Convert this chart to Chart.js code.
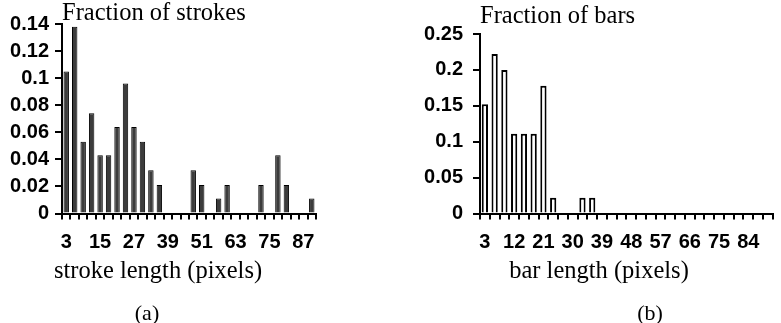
<!DOCTYPE html>
<html>
<head>
<meta charset="utf-8">
<script src="https://cdn.jsdelivr.net/npm/chart.js@4.4.1/dist/chart.umd.min.js"></script>
<style>
  html, body { margin: 0; padding: 0; background: #fff; }
  #wrap { position: relative; width: 781px; height: 323px; overflow: hidden; }
  canvas { position: absolute; top: 0; }
  #chartA { left: 0; }
  #chartB { left: 419px; }
  .caption {
    position: absolute; top: 300px; line-height: 22px;
    font: 22px 'Liberation Serif', 'Times New Roman', serif;
    transform: translateX(-50%);
  }
</style>
</head>
<body>
<div id="wrap">
  <canvas id="chartA" width="333" height="323"></canvas>
  <canvas id="chartB" width="362" height="323"></canvas>
  <div class="caption" style="left:147px">(a)</div>
  <div class="caption" style="left:650px">(b)</div>
</div>
<script>
// (a) stroke length histogram
const strokeLengths = [3, 6, 9, 12, 15, 18, 21, 24, 27, 30, 33, 36, 39, 42, 45,
                       48, 51, 54, 57, 60, 63, 66, 69, 72, 75, 78, 81, 84, 87, 90];
const strokeFractions = [0.105, 0.138, 0.053, 0.074, 0.043, 0.043, 0.064, 0.096, 0.064, 0.053,
                         0.032, 0.021, 0, 0, 0, 0.032, 0.021, 0, 0.011, 0.021,
                         0, 0, 0, 0.021, 0, 0.043, 0.021, 0, 0, 0.011];

// (b) bar length histogram
const barLengths = [3, 6, 9, 12, 15, 18, 21, 24, 27, 30, 33, 36, 39, 42, 45,
                    48, 51, 54, 57, 60, 63, 66, 69, 72, 75, 78, 81, 84, 87, 90];
const barFractions = [0.152, 0.222, 0.2, 0.111, 0.111, 0.111, 0.178, 0.022, 0, 0,
                      0.022, 0.022, 0, 0, 0, 0, 0, 0, 0, 0,
                      0, 0, 0, 0, 0, 0, 0, 0, 0, 0];

const tickFont = { family: "'Liberation Sans', Arial, sans-serif", size: 20, weight: 'bold', lineHeight: 1 };
const serifFont = "'Liberation Serif', 'Times New Roman', serif";

function makeChart(canvas, cfg) {
    return new Chart(canvas, {
        type: 'bar',
        data: {
            labels: cfg.labels,
            datasets: [{
                data: cfg.values,
                backgroundColor: cfg.fill,
                borderColor: '#000',
                borderWidth: cfg.borderWidth,
                barPercentage: 0.64,
                categoryPercentage: 1
            }]
        },
        options: {
            responsive: false,
            animation: false,
            devicePixelRatio: 1,
            layout: { padding: { left: 0, right: cfg.padRight, top: 0, bottom: 39 } },
            scales: {
                x: {
                    grid: { drawOnChartArea: false, drawTicks: true, tickLength: 6, color: '#000', lineWidth: 2 },
                    border: { display: true, color: '#000', width: 2 },
                    ticks: {
                        color: '#000',
                        font: tickFont,
                        padding: 13,
                        autoSkip: false,
                        maxRotation: 0,
                        callback: function(value, index) {
                            return index % cfg.labelEvery === 0 ? this.getLabelForValue(value) : '';
                        }
                    },
                    afterFit: s => { s.height = 46; }
                },
                y: {
                    min: 0,
                    max: cfg.yMax,
                    grid: { drawOnChartArea: false, drawTicks: true, tickLength: 7, color: '#000', lineWidth: 2 },
                    border: { display: true, color: '#000', width: 2 },
                    ticks: {
                        stepSize: cfg.yStep,
                        color: '#000',
                        font: tickFont,
                        padding: cfg.yPad,
                        callback: v => String(+v.toFixed(2))
                    },
                    afterFit: s => { s.width = cfg.yWidth; }
                }
            },
            plugins: {
                legend: { display: false },
                tooltip: { enabled: false },
                title: {
                    display: true,
                    text: cfg.title,
                    align: 'start',
                    fullSize: false,
                    color: '#000',
                    font: { family: serifFont, size: 24.5, weight: 'normal', lineHeight: cfg.titleLH },
                    padding: cfg.titlePad
                },
                subtitle: {
                    display: true,
                    position: 'bottom',
                    text: cfg.xTitle,
                    color: '#000',
                    font: { family: serifFont, size: 24.5, weight: 'normal', lineHeight: 1 },
                    padding: 0
                }
            }
        }
    });
}

makeChart(document.getElementById('chartA'), {
    labels: strokeLengths,
    values: strokeFractions,
    fill: '#3c3c3c',
    borderWidth: 1,
    labelEvery: 4,
    yMax: 0.14,
    yStep: 0.02,
    yWidth: 62,
    yPad: 6,
    padRight: 17,
    title: 'Fraction of strokes',
    titleLH: 0.86,
    titlePad: { top: 3, bottom: 0 },
    xTitle: 'stroke length (pixels)'
});

makeChart(document.getElementById('chartB'), {
    labels: barLengths,
    values: barFractions,
    fill: '#fff',
    borderWidth: 2,
    labelEvery: 3,
    yMax: 0.25,
    yStep: 0.05,
    yWidth: 61,
    yPad: 10,
    padRight: 2,
    title: 'Fraction of bars',
    titleLH: 0.98,
    titlePad: { top: 5, bottom: 5 },
    xTitle: 'bar length (pixels)'
});
</script>
</body>
</html>
